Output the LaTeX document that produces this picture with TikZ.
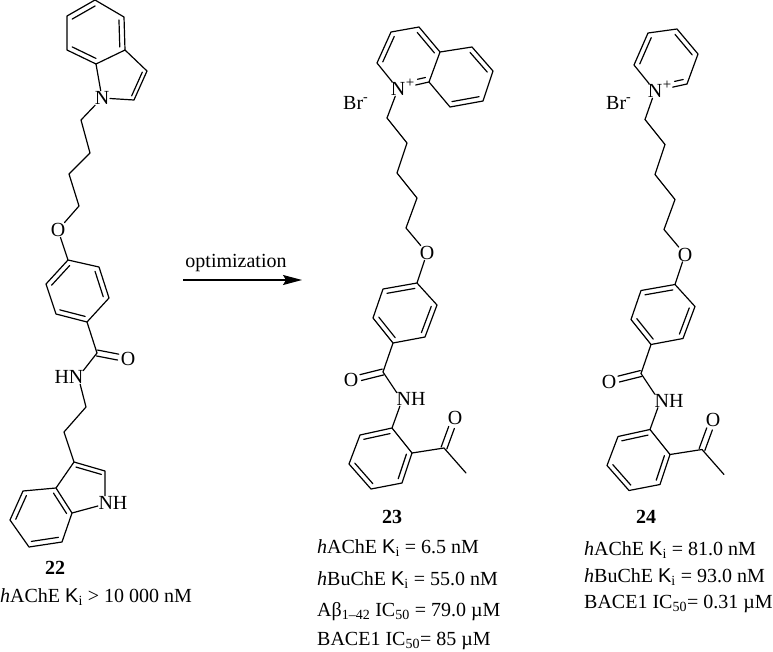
\documentclass[tikz,border=0pt]{standalone}
\usepackage{fontspec}
\setmainfont{Liberation Serif}
\setsansfont{Liberation Sans}
\usetikzlibrary{arrows.meta, calc, positioning}

\newcommand{\ringbond}[3]{\draw[bond] ($(#1)!.18!(#3)$) -- ($(#2)!.18!(#3)$);}
\newcommand{\carbonyl}[2]{
    \draw[bond, shorten >=10pt] ($(#1)!3pt!90:(#2)$) -- ($(#2)!3pt!-90:(#1)$);
    \draw[bond, shorten >=10pt] ($(#1)!3pt!-90:(#2)$) -- ($(#2)!3pt!90:(#1)$);
}
\newcommand{\Ki}{\textsf{K}\textsubscript{i}}

\begin{document}
\begin{tikzpicture}[
            x=1pt, y=-1pt,
            >={Stealth[length=19pt, width=10pt, inset=3pt]},
            bond/.style={line width=1.2pt, line join=round, line cap=round},
            atom/.style={font=\fontsize{20}{20}\selectfont, inner sep=0.5pt},
            charge/.style={font=\fontsize{15}{15}\selectfont, inner sep=0pt},
            label text/.style={font=\fontsize{20}{20}\selectfont, inner sep=0pt, anchor=base west},
            number/.style={font=\fontsize{20}{20}\selectfont\bfseries, inner sep=0pt, anchor=base},
            tail/.pic={
                \coordinate (c1) at (387,118);
                \coordinate (c2) at (407,143);
                \coordinate (c3) at (397,173);
                \coordinate (c4) at (417,198);
                \coordinate (c5) at (406,228);
                \node (oxy) [atom] at (427,253) {O};
                \draw[bond] (c1) -- (c2) -- (c3) -- (c4) -- (c5) -- (oxy);
                \coordinate (p1) at (417,283);
                \coordinate (p2) at (383,289);
                \coordinate (p3) at (373,318);
                \coordinate (p4) at (393,343);
                \coordinate (p5) at (425,337);
                \coordinate (p6) at (437,305);
                \coordinate (pmid) at (405,313);
                \draw[bond] (oxy) -- (p1) -- (p2) -- (p3) -- (p4) -- (p5) -- (p6) -- (p1);
                \ringbond{p1}{p2}{pmid}
                \ringbond{p3}{p4}{pmid}
                \ringbond{p5}{p6}{pmid}
                \coordinate (amide) at (383,372);
                \node (amideo) [atom] at (351,380) {O};
                \node (nh) [atom] at (411,399) {NH};
                \draw[bond] (p4) -- (amide);
                \carbonyl{amide}{amideo}
                \draw[bond] (amide) -- ([xshift=1pt, yshift=-1pt]nh.north west);
                \coordinate (q1) at (392,428);
                \coordinate (q2) at (360,435);
                \coordinate (q3) at (349,464);
                \coordinate (q4) at (371,489);
                \coordinate (q5) at (402,483);
                \coordinate (q6) at (412,453);
                \coordinate (qmid) at (381,459);
                \draw[bond] ([xshift=4pt]nh.south west) -- (q1) -- (q2) -- (q3) -- (q4) -- (q5) -- (q6) -- (q1);
                \ringbond{q1}{q2}{qmid}
                \ringbond{q3}{q4}{qmid}
                \ringbond{q5}{q6}{qmid}
                \coordinate (acetyl) at (444,448);
                \coordinate (methyl) at (466,473);
                \node (acetylo) [atom] at (455,418) {O};
                \draw[bond] (q6) -- (acetyl) -- (methyl);
                \carbonyl{acetyl}{acetylo}
            }
        ]
            \useasboundingbox (0,0) rectangle (773,651);

            \coordinate (a1) at (95,0);
            \coordinate (a2) at (124,17);
            \coordinate (a3) at (125,50);
            \coordinate (a4) at (96,64);
            \coordinate (a5) at (67,50);
            \coordinate (a6) at (67,16);
            \coordinate (amid) at (96,33);
            \coordinate (a7) at (147,71);
            \coordinate (a8) at (134,100);
            \coordinate (bmid) at (121,77);
            \node (n22) [atom] at (102,98) {N};
            \draw[bond] (a1) -- (a2) -- (a3) -- (a4) -- (a5) -- (a6) -- (a1);
            \draw[bond] (a3) -- (a7) -- (a8) -- (n22) -- (a4);
            \ringbond{a6}{a1}{amid}
            \ringbond{a2}{a3}{amid}
            \ringbond{a4}{a5}{amid}
            \ringbond{a7}{a8}{bmid}

            \coordinate (l1) at (81,120);
            \coordinate (l2) at (90,153);
            \coordinate (l3) at (69,174);
            \coordinate (l4) at (79,206);
            \node (o22) [atom] at (58,230) {O};
            \draw[bond] (n22) -- (l1) -- (l2) -- (l3) -- (l4) -- (o22);

            \coordinate (b1) at (68,260);
            \coordinate (b2) at (99,267);
            \coordinate (b3) at (109,298);
            \coordinate (b4) at (87,322);
            \coordinate (b5) at (56,314);
            \coordinate (b6) at (46,284);
            \coordinate (cmid) at (77,291);
            \draw[bond] (o22) -- (b1) -- (b2) -- (b3) -- (b4) -- (b5) -- (b6) -- (b1);
            \ringbond{b1}{b6}{cmid}
            \ringbond{b2}{b3}{cmid}
            \ringbond{b4}{b5}{cmid}

            \coordinate (amide22) at (97,353);
            \node (amideo22) [atom] at (128,359) {O};
            \node (hn22) [atom] at (69,377) {HN};
            \draw[bond] (b4) -- (amide22);
            \carbonyl{amide22}{amideo22}
            \draw[bond] (amide22) -- ([xshift=-1pt, yshift=-1pt]hn22.north east);

            \coordinate (e1) at (86,407);
            \coordinate (e2) at (64,432);
            \coordinate (d1) at (74,462);
            \coordinate (d2) at (105,471);
            \coordinate (d3) at (72,513);
            \coordinate (d4) at (56,488);
            \coordinate (d5) at (23,491);
            \coordinate (d6) at (10,520);
            \coordinate (d7) at (29,547);
            \coordinate (d8) at (62,542);
            \coordinate (dmid) at (42,516);
            \coordinate (fmid) at (85,490);
            \node (nh22) [atom] at (113,503) {NH};
            \draw[bond] ([xshift=-4pt]hn22.south east) -- (e1) -- (e2) -- (d1) -- (d2) -- (d2 |- nh22.north);
            \draw[bond] (d1) -- (d4) -- (d5) -- (d6) -- (d7) -- (d8) -- (d3) -- (d4);
            \draw[bond] (d3) -- ([yshift=-3pt]nh22.west);
            \ringbond{d1}{d2}{fmid}
            \ringbond{d4}{d3}{dmid}
            \ringbond{d5}{d6}{dmid}
            \ringbond{d7}{d8}{dmid}

            \node (num22) [number] at (55,574) {22};
            \node (act22) [label text] at (0,602) {\textit{h}AChE \Ki{} > 10 000 nM};

            \coordinate (optstart) at (183,280);
            \coordinate (optend) at (302,280);
            \node (opt) [atom, anchor=base] at (236,267) {optimization};
            \draw[->, line width=1.2pt] (optstart) -- (optend);

            \node (n23) [atom] at (398,89) {N};
            \node (plus23) [charge] at (410,83) {+};
            \node (br23) [label text] at (343,109) {Br\textsuperscript{-}};
            \coordinate (g1) at (377,63);
            \coordinate (g2) at (391,32);
            \coordinate (g3) at (419,27);
            \coordinate (g4) at (440,52);
            \coordinate (g5) at (429,82);
            \coordinate (g6) at (472,47);
            \coordinate (g7) at (493,71);
            \coordinate (g8) at (483,101);
            \coordinate (g9) at (450,107);
            \coordinate (gmid) at (409,57);
            \coordinate (hmid) at (461,77);
            \draw[bond] (n23) -- (g1) -- (g2) -- (g3) -- (g4) -- (g6) -- (g7) -- (g8) -- (g9) -- (g5) -- (g4);
            \draw[bond, shorten >=10pt] (g5) -- (n23);
            \draw[bond, shorten <=18pt] ($(n23)!.18!(gmid)$) -- ($(g5)!.18!(gmid)$);
            \ringbond{g1}{g2}{gmid}
            \ringbond{g3}{g4}{gmid}
            \ringbond{g6}{g7}{hmid}
            \ringbond{g8}{g9}{hmid}
            \pic (t23) at (0,0) {tail};
            \draw[bond] (n23) -- (t23c1);

            \node (num23) [number] at (392,523) {23};
            \node (act23a) [label text] at (317,553) {\textit{h}AChE \Ki{} = 6.5 nM};
            \node (act23b) [label text] at (317,585) {\textit{h}BuChE \Ki{} = 55.0 nM};
            \node (act23c) [label text] at (317,616) {Aβ\textsubscript{1–42} IC\textsubscript{50} = 79.0 µM};
            \node (act23d) [label text] at (317,645) {BACE1 IC\textsubscript{50}= 85 µM};

            \node (n24) [atom] at (655,91) {N};
            \node (plus24) [charge] at (667,85) {+};
            \node (br24) [label text] at (606,109) {Br\textsuperscript{-}};
            \coordinate (k1) at (634,65);
            \coordinate (k2) at (648,33);
            \coordinate (k3) at (677,29);
            \coordinate (k4) at (698,54);
            \coordinate (k5) at (687,84);
            \coordinate (kmid) at (666,59);
            \draw[bond] (n24) -- (k1) -- (k2) -- (k3) -- (k4) -- (k5);
            \draw[bond, shorten >=10pt] (k5) -- (n24);
            \draw[bond, shorten <=18pt] ($(n24)!.18!(kmid)$) -- ($(k5)!.18!(kmid)$);
            \ringbond{k1}{k2}{kmid}
            \ringbond{k3}{k4}{kmid}
            \pic (t24) at (258,1.5) {tail};
            \draw[bond] (n24) -- (t24c1);

            \node (num24) [number] at (646,523) {24};
            \node (act24a) [label text] at (584,555) {\textit{h}AChE \Ki{} = 81.0 nM};
            \node (act24b) [label text] at (584,582) {\textit{h}BuChE \Ki{} = 93.0 nM};
            \node (act24c) [label text] at (584,608) {BACE1 IC\textsubscript{50}= 0.31 µM};
        \end{tikzpicture}
\end{document}
